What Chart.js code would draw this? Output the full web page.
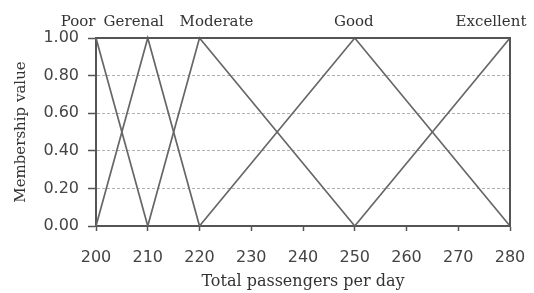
<!DOCTYPE html>
<html>
<head>
<meta charset="utf-8">
<script src="https://cdn.jsdelivr.net/npm/chart.js@4.4.1/dist/chart.umd.min.js"></script>
<style>
    html, body { margin: 0; padding: 0; background: #fff; }
    #wrap { width: 534px; height: 293px; }
</style>
</head>
<body>
<div id="wrap"><canvas id="fuzzyChart"></canvas></div>
<script>
// Membership functions (passengers per day -> membership)
const categories = ['Poor', 'Gerenal', 'Moderate', 'Good', 'Excellent'];
const poorX = [200, 210];
const poorY = [1, 0];
const generalX = [200, 210, 220];
const generalY = [0, 1, 0];
const moderateX = [210, 220, 250];
const moderateY = [0, 1, 0];
const goodX = [220, 250, 280];
const goodY = [0, 1, 0];
const excellentX = [250, 280];
const excellentY = [0, 1];
const peaks = [200, 210, 220, 250, 280];
const xTicks = [200, 210, 220, 230, 240, 250, 260, 270, 280];
const yTicks = [0, 0.2, 0.4, 0.6, 0.8, 1.0];

const seriesX = [poorX, generalX, moderateX, goodX, excellentX];
const seriesY = [poorY, generalY, moderateY, goodY, excellentY];

const lineColor = '#666';
const frameColor = '#555';
const serif = "'DejaVu Serif', serif";
const sans = "'DejaVu Sans', sans-serif";

// frame on top/right plus the term names above the plot
const fuzzyLabels = {
    id: 'fuzzyLabels',
    afterDraw(chart) {
        const { ctx, chartArea: a, scales: { x } } = chart;
        ctx.save();
        ctx.strokeStyle = frameColor;
        ctx.lineWidth = 2;
        ctx.beginPath();
        ctx.moveTo(a.left, a.top);
        ctx.lineTo(a.right, a.top);
        ctx.lineTo(a.right, a.bottom);
        ctx.stroke();

        const offsets = [-18, -14, 17, -1, -19];
        ctx.font = '15px ' + serif;
        ctx.fillStyle = '#333';
        ctx.textAlign = 'center';
        ctx.textBaseline = 'middle';
        categories.forEach((name, i) => {
            ctx.fillText(name, x.getPixelForValue(peaks[i]) + offsets[i], 22);
        });
        ctx.restore();
    }
};

const ctx = document.getElementById('fuzzyChart').getContext('2d');
new Chart(ctx, {
    type: 'line',
    data: {
        datasets: categories.map((name, i) => ({
            label: name,
            data: seriesX[i].map((v, j) => ({ x: v, y: seriesY[i][j] })),
            borderColor: lineColor,
            borderWidth: 1.7,
            pointRadius: 0,
            tension: 0,
            fill: false,
            clip: false
        }))
    },
    options: {
        responsive: true,
        maintainAspectRatio: false,
        animation: false,
        layout: { padding: { top: 38, right: 24, left: 0, bottom: 0 } },
        plugins: {
            legend: { display: false },
            tooltip: { enabled: false }
        },
        scales: {
            x: {
                type: 'linear',
                min: 200,
                max: 280,
                afterBuildTicks: (scale) => { scale.ticks = xTicks.map(v => ({ value: v })); },
                afterFit: (scale) => {
                    scale.height = 67;
                    scale.paddingLeft = 0;
                    scale.paddingRight = 0;
                },
                ticks: {
                    padding: 17,
                    color: '#444',
                    font: { family: sans, size: 16 }
                },
                grid: {
                    drawOnChartArea: false,
                    drawTicks: true,
                    tickLength: 5,
                    tickColor: frameColor,
                    tickWidth: 1.5
                },
                border: { color: frameColor, width: 2 },
                title: {
                    display: true,
                    text: 'Total passengers per day',
                    color: '#333',
                    font: { family: serif, size: 16 },
                    padding: { top: 0, bottom: 2 }
                }
            },
            y: {
                min: 0,
                max: 1,
                afterBuildTicks: (scale) => { scale.ticks = yTicks.map(v => ({ value: v })); },
                afterFit: (scale) => { scale.width = 96; },
                ticks: {
                    padding: 9,
                    color: '#444',
                    font: { family: sans, size: 16 },
                    callback: (v) => v.toFixed(2)
                },
                grid: {
                    color: '#b0b0b0',
                    lineWidth: 1,
                    tickLength: 8,
                    tickColor: frameColor,
                    tickWidth: 1.5,
                    tickBorderDash: []
                },
                border: { color: frameColor, width: 2, dash: [3, 2] },
                title: {
                    display: true,
                    text: 'Membership value',
                    color: '#333',
                    font: { family: serif, size: 15 },
                    padding: { top: 12, bottom: 0 }
                }
            }
        }
    },
    plugins: [fuzzyLabels]
});
</script>
</body>
</html>
